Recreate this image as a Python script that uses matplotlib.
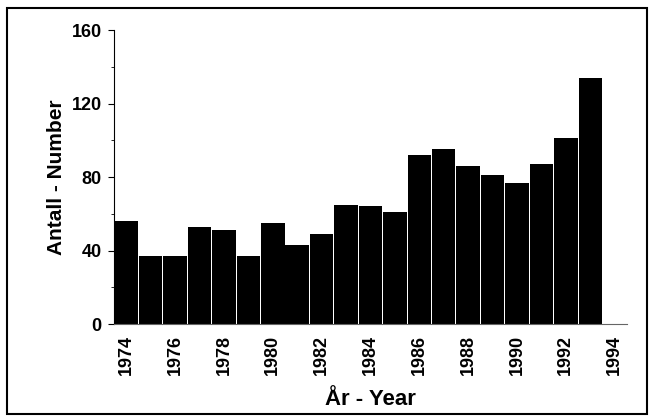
import matplotlib
matplotlib.use("Agg")
import matplotlib.pyplot as plt
from matplotlib.patches import Rectangle
from matplotlib.ticker import MultipleLocator

plt.rcParams["font.family"] = ["Liberation Sans", "DejaVu Sans"]

years = list(range(1974, 1994))
counts = [56, 37, 37, 53, 51, 37, 55, 43, 49, 65,
          64, 61, 92, 95, 86, 81, 77, 87, 101, 134]
xticks = list(range(1974, 1995, 2))
yticks = [0, 40, 80, 120, 160]

fig = plt.figure(figsize=(6.49, 4.19), dpi=100)
ax = fig.add_axes([0.1757, 0.2267, 0.7903, 0.7017])

ax.bar(years, counts, width=0.96, color="black", edgecolor="none")
ax.set_xlim(1973.5, 1994.5)
ax.set_ylim(0, 160)
ax.set_xticks(xticks)
ax.set_xticklabels([str(y) for y in xticks], rotation=90, fontweight="bold", fontsize=13)
ax.set_yticks(yticks)
ax.set_yticklabels([str(v) for v in yticks], fontweight="bold", fontsize=13)
ax.yaxis.set_minor_locator(MultipleLocator(20))
ax.tick_params(axis="x", length=0, pad=8)
ax.tick_params(axis="y", which="major", length=4, width=0.8, pad=5)
ax.tick_params(axis="y", which="minor", length=2, width=0.6)

for side in ("top", "right"):
    ax.spines[side].set_visible(False)
ax.spines["left"].set_linewidth(0.8)
ax.spines["bottom"].set_linewidth(0.8)
ax.spines["bottom"].set_color("0.4")

ax.set_ylabel("Antall - Number", fontweight="bold", fontsize=15, labelpad=4)
ax.set_xlabel("År - Year", fontweight="bold", fontsize=16, labelpad=10)

fig.patches.append(Rectangle((7 / 649, 5 / 419), 640 / 649, 406 / 419,
                             transform=fig.transFigure, fill=False,
                             edgecolor="black", linewidth=1.5))

fig.savefig("out.png", dpi=100)
